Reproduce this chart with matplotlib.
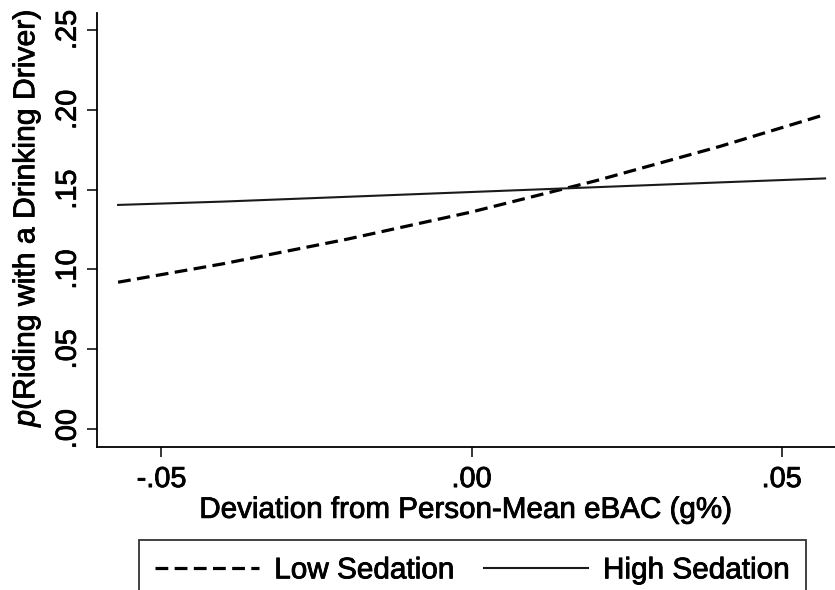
import matplotlib
matplotlib.use("Agg")
import matplotlib.pyplot as plt
import matplotlib.patheffects as pe

plt.rcParams['font.family'] = ['Liberation Sans', 'DejaVu Sans']
plt.rcParams['mathtext.fontset'] = 'custom'
plt.rcParams['mathtext.rm'] = 'Liberation Sans'
plt.rcParams['mathtext.it'] = 'Liberation Sans:italic'

# predicted probabilities across within-person eBAC deviation
ebac_dev = [-0.057, -0.04, -0.02, 0.0, 0.02, 0.04, 0.057]
low_sedation = [0.092, 0.1036, 0.119, 0.136, 0.1555, 0.177, 0.197]
high_sedation = [0.1404, 0.1425, 0.1455, 0.1485, 0.1515, 0.1545, 0.157]

x_ticks = [-0.05, 0.0, 0.05]
x_ticklabels = ['-.05', '.00', '.05']
y_ticks = [0.0, 0.05, 0.10, 0.15, 0.20, 0.25]
y_ticklabels = ['.00', '.05', '.10', '.15', '.20', '.25']

# slightly heavier glyphs
heavy = [pe.withStroke(linewidth=0.6, foreground='black')]

fig = plt.figure(figsize=(8.35, 5.9), dpi=100)
ax = fig.add_axes([97 / 835, 1 - 447 / 590, 1 - 97 / 835, (447 - 13) / 590])

l1, = ax.plot(ebac_dev, low_sedation, color='black', lw=2.3,
              linestyle=(0, (4, 2)), dash_capstyle='butt')
l2, = ax.plot(ebac_dev, high_sedation, color='#1a1a1a', lw=1.5)

ax.set_xlim(-0.0604, 0.0586)
ax.set_ylim(-0.0112, 0.2606)

ax.set_xticks(x_ticks)
ax.set_xticklabels(x_ticklabels)
ax.set_yticks(y_ticks)
ax.set_yticklabels(y_ticklabels, rotation=90, va='center')

ax.tick_params(axis='both', direction='out', length=7, width=1.1,
               labelsize=20.8, color='black')
ax.tick_params(axis='x', pad=6)
ax.tick_params(axis='y', pad=4)
for lab in ax.get_xticklabels() + ax.get_yticklabels():
    lab.set_path_effects(heavy)

for side in ['top', 'right']:
    ax.spines[side].set_visible(False)
for side in ['left', 'bottom']:
    ax.spines[side].set_linewidth(1.3)

ax.set_xlabel('Deviation from Person-Mean eBAC (g%)', fontsize=21.3,
              labelpad=2, path_effects=heavy)
ax.set_ylabel(r'$\mathit{p}$(Riding with a Drinking Driver)', fontsize=21.7,
              path_effects=heavy)
ax.yaxis.set_label_coords(-0.074, 0.528)

leg = fig.legend([l1, l2], ['Low Sedation', 'High Sedation'],
                 loc='upper left', bbox_to_anchor=(139 / 835, 1 - 540 / 590),
                 ncol=2, fontsize=21.4, frameon=True, fancybox=False,
                 handlelength=3.5, handletextpad=0.5, columnspacing=1.0,
                 borderpad=0.55, borderaxespad=0)
leg.get_frame().set_edgecolor('black')
leg.get_frame().set_linewidth(1.3)
for t in leg.get_texts():
    t.set_path_effects(heavy)

fig.savefig('out.png', dpi=100)
